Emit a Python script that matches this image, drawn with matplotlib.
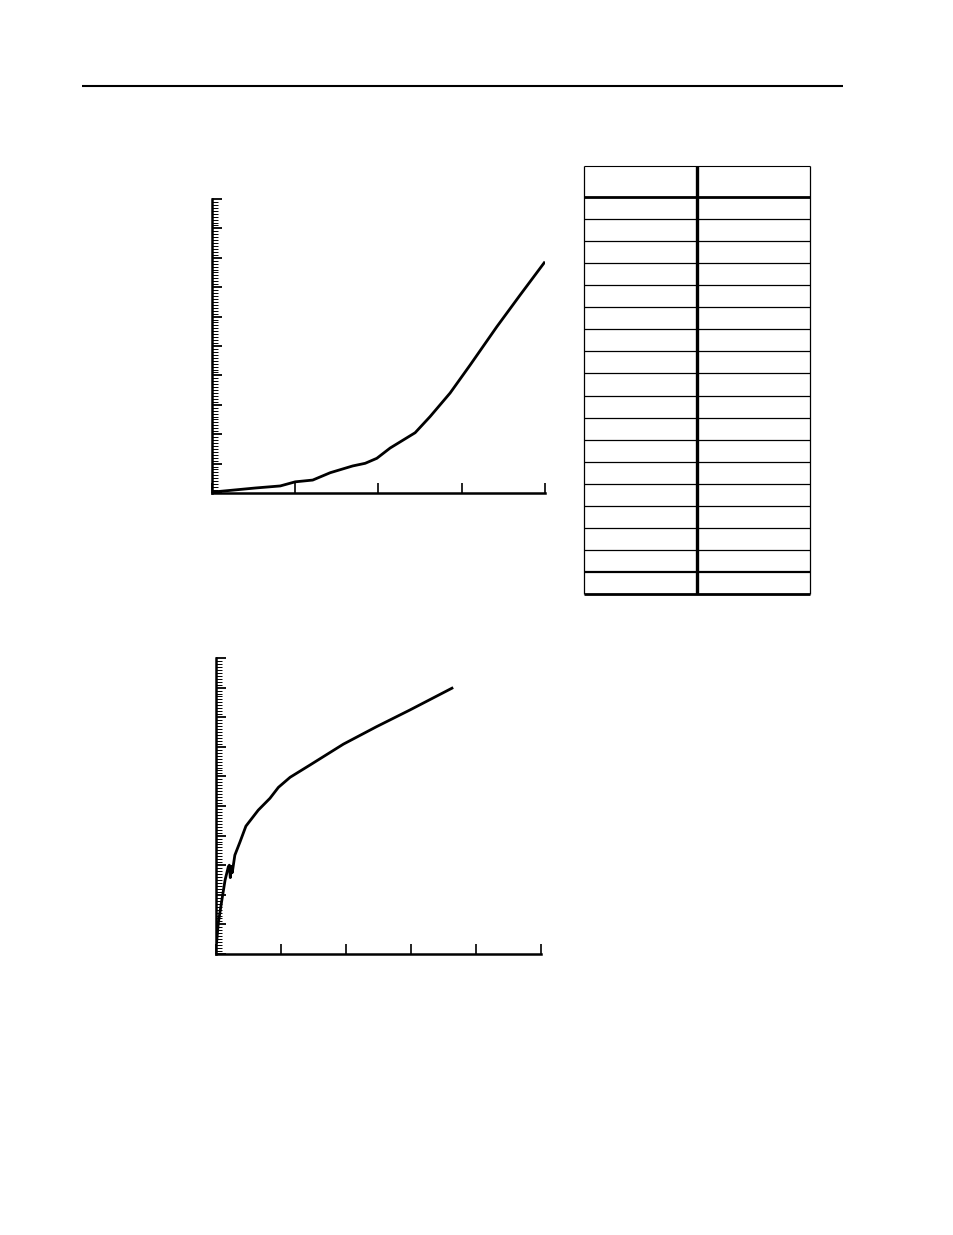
"""Page with two blank-labelled curves and an empty two-column table."""

import matplotlib
matplotlib.use("Agg")
import matplotlib.pyplot as plt
from matplotlib.ticker import MultipleLocator, NullFormatter

W, H = 954, 1235

# upper curve (x 0..40, y 0..100)
top_x = [0.0, 5.2, 8.2, 10.0, 12.1, 14.2, 16.9, 18.4, 19.8, 21.4, 24.4,
         26.2, 28.6, 31.0, 34.2, 37.0, 39.9]
top_y = [0.3, 1.7, 2.4, 3.8, 4.4, 6.9, 9.2, 10.1, 11.8, 15.3, 20.5,
         26.0, 34.0, 43.5, 56.5, 67.3, 78.3]

# lower curve (x 0..50, y 0..100)
bot_x = [0.1, 0.35, 0.9, 1.4, 1.9, 2.05, 2.2, 2.4, 2.5, 2.9, 3.7, 4.6,
         6.5, 8.3, 9.6, 11.4, 14.5, 19.6, 24.7, 29.8, 36.3]
bot_y = [4.0, 10.4, 18.2, 25.0, 29.5, 30.0, 25.8, 29.6, 27.5, 33.4, 37.9,
         43.2, 48.6, 52.6, 56.3, 59.7, 63.9, 70.9, 76.8, 82.4, 89.8]

# empty table: number of body rows below the header
n_rows = 18
header_rows = 31 / 22


def _rect(left, top, right, bottom):
    return [left / W, 1 - bottom / H, (right - left) / W, (bottom - top) / H]


def _style_axes(ax, xmax, xstep):
    ax.set_xlim(0, xmax)
    ax.set_ylim(0, 100)
    for s in ("top", "right"):
        ax.spines[s].set_visible(False)
    for s in ("left", "bottom"):
        ax.spines[s].set_linewidth(1.8)
    ax.xaxis.set_major_locator(MultipleLocator(xstep))
    ax.yaxis.set_major_locator(MultipleLocator(10))
    ax.yaxis.set_minor_locator(MultipleLocator(1))
    ax.xaxis.set_major_formatter(NullFormatter())
    ax.yaxis.set_major_formatter(NullFormatter())
    ax.tick_params(axis="x", direction="in", length=7.2, width=1.2, top=False)
    ax.tick_params(axis="y", which="major", direction="in", length=7.2, width=1.3, right=False)
    ax.tick_params(axis="y", which="minor", direction="in", length=4.3, width=0.7, right=False)
    ax.set_facecolor("none")


fig = plt.figure(figsize=(W / 100, H / 100), dpi=100)

# page rule
page = fig.add_axes([0, 0, 1, 1])
page.set_xlim(0, W)
page.set_ylim(H, 0)
page.axis("off")
page.hlines(86, 82, 843, color="black", lw=1.5)

ax1 = fig.add_axes(_rect(212, 199, 545, 493))
ax1.plot(top_x, top_y, color="black", lw=2.0, solid_joinstyle="round")
_style_axes(ax1, 40, 10)

ax2 = fig.add_axes(_rect(216, 658, 541, 954))
ax2.plot(bot_x, bot_y, color="black", lw=2.0, solid_joinstyle="round")
_style_axes(ax2, 50, 10)

# table
tab = fig.add_axes(_rect(584, 166, 810, 594))
tab.set_xlim(0, 2)
tab.set_ylim(n_rows + header_rows, 0)
tab.axis("off")
kw = dict(color="black", clip_on=False)
tab.hlines(0, 0, 2, lw=0.8, **kw)
tab.hlines(header_rows, 0, 2, lw=2.0, **kw)
for i in range(1, n_rows):
    lw = 1.6 if i == n_rows - 1 else 0.9
    tab.hlines(header_rows + i, 0, 2, lw=lw, **kw)
tab.hlines(n_rows + header_rows, 0, 2, lw=2.0, **kw)
tab.vlines([0, 2], 0, n_rows + header_rows, lw=0.9, **kw)
tab.vlines(1, 0, n_rows + header_rows, lw=2.4, **kw)

fig.savefig("out.png", dpi=100)
